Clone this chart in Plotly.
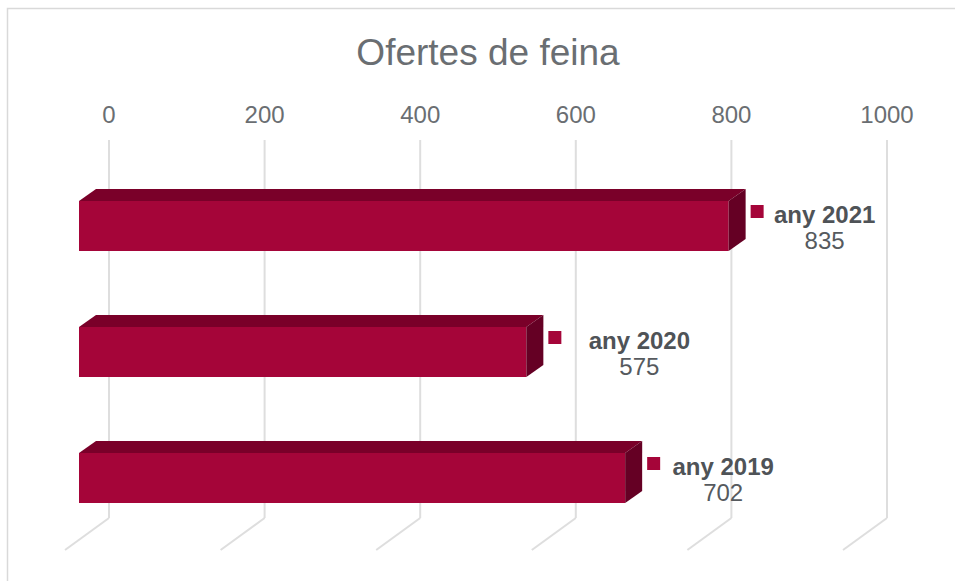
import plotly.graph_objects as go

years = ["any 2019", "any 2020", "any 2021"]
offers = [702, 575, 835]
tick_values = [0, 200, 400, 600, 800, 1000]

W, H = 955, 581
PLOT_TOP, PLOT_BOTTOM, FLOOR_PX = 140, 581, 518
X0_PX, PX_PER_UNIT = 109, 0.778
ROW_PX, FIRST_ROW_PX = 126, 478

x_range = [-X0_PX / PX_PER_UNIT, (W - X0_PX) / PX_PER_UNIT]
y_range = [(FIRST_ROW_PX - PLOT_BOTTOM) / ROW_PX, (FIRST_ROW_PX - PLOT_TOP) / ROW_PX]
floor_y = (FIRST_ROW_PX - FLOOR_PX) / ROW_PX


def dx(px):
    return px / PX_PER_UNIT


def dy(px):
    return px / ROW_PX


rows = list(range(len(years)))
base = -dx(30)
half = dy(25)
depth_x, depth_y = dx(17), dy(12)
FRONT, TOP, SIDE = "#A50539", "#7A0029", "#650024"
SOFT, STRONG = "#565A5E", "#4F5357"
GRID = "#DEDEDE"

fig = go.Figure()
fig.add_trace(go.Bar(
    y=rows, x=offers, base=base, orientation="h", width=2 * half,
    marker=dict(color=FRONT, line=dict(width=0)), hoverinfo="skip",
))

for v, r in zip(offers, rows):
    end = base + v
    fig.add_trace(go.Scatter(
        x=[base, end, end + depth_x, base + depth_x, base],
        y=[r + half, r + half, r + half + depth_y, r + half + depth_y, r + half],
        mode="lines", fill="toself", fillcolor=TOP, line=dict(width=0), hoverinfo="skip",
    ))
    fig.add_trace(go.Scatter(
        x=[end, end + depth_x, end + depth_x, end, end],
        y=[r + half, r + half + depth_y, r - half + depth_y, r - half, r + half],
        mode="lines", fill="toself", fillcolor=SIDE, line=dict(width=0), hoverinfo="skip",
    ))

fig.add_trace(go.Scatter(
    x=[base + v + dx(28.5) for v in offers], y=[r + dy(14.5) for r in rows],
    mode="markers", marker=dict(symbol="square", size=13, color=FRONT, line=dict(width=0)),
    hoverinfo="skip",
))

label_dx = [98, 113, 96]
fig.add_trace(go.Scatter(
    x=[base + v + dx(d) for v, d in zip(offers, label_dx)], y=[r + dy(9) for r in rows],
    mode="text", text=[f"<b>{y}</b>" for y in years], textposition="middle center",
    textfont=dict(family="Liberation Sans", size=24, color=STRONG), hoverinfo="skip",
))
fig.add_trace(go.Scatter(
    x=[base + v + dx(d) for v, d in zip(offers, label_dx)], y=[r - dy(17) for r in rows],
    mode="text", text=[str(v) for v in offers], textposition="middle center",
    textfont=dict(family="Liberation Sans", size=24, color=SOFT), hoverinfo="skip",
))

plot_h = PLOT_BOTTOM - PLOT_TOP
fig.add_shape(
    type="rect", xref="paper", yref="paper", layer="below",
    x0=7.5 / W, x1=(W + 20) / W,
    y0=(PLOT_BOTTOM - 600) / plot_h, y1=(PLOT_BOTTOM - 8.5) / plot_h,
    line=dict(color="#D9D9D9", width=1.5), fillcolor="white",
)

for t in tick_values:
    fig.add_shape(type="line", xref="x", yref="y", layer="below",
                  x0=t, x1=t, y0=y_range[1], y1=floor_y,
                  line=dict(color=GRID, width=2))
    fig.add_shape(type="line", xref="x", yref="y", layer="below",
                  x0=t, x1=t - dx(44), y0=floor_y, y1=floor_y - dy(32),
                  line=dict(color=GRID, width=2))

fig.update_layout(
    width=W, height=H, showlegend=False, barmode="overlay",
    margin=dict(l=0, r=0, t=PLOT_TOP, b=H - PLOT_BOTTOM),
    paper_bgcolor="white", plot_bgcolor="rgba(0,0,0,0)",
    font=dict(family="Liberation Sans"),
    title=dict(text="Ofertes de feina", x=488 / W, xanchor="center", y=1 - 52 / H, yanchor="middle",
               font=dict(family="Liberation Sans", size=37, color="#6A6E72")),
    xaxis=dict(range=x_range, side="top", tickmode="array", tickvals=tick_values,
               showgrid=False, zeroline=False, showline=False,
               ticks="outside", ticklen=6, tickcolor="rgba(0,0,0,0)",
               tickfont=dict(family="Liberation Sans", size=24, color="#6A6E72")),
    yaxis=dict(range=y_range, showgrid=False, zeroline=False, showline=False,
               showticklabels=False, ticks=""),
)

fig.write_html("out.html", config={"displayModeBar": False},
               post_script="document.body.style.margin='0';")
